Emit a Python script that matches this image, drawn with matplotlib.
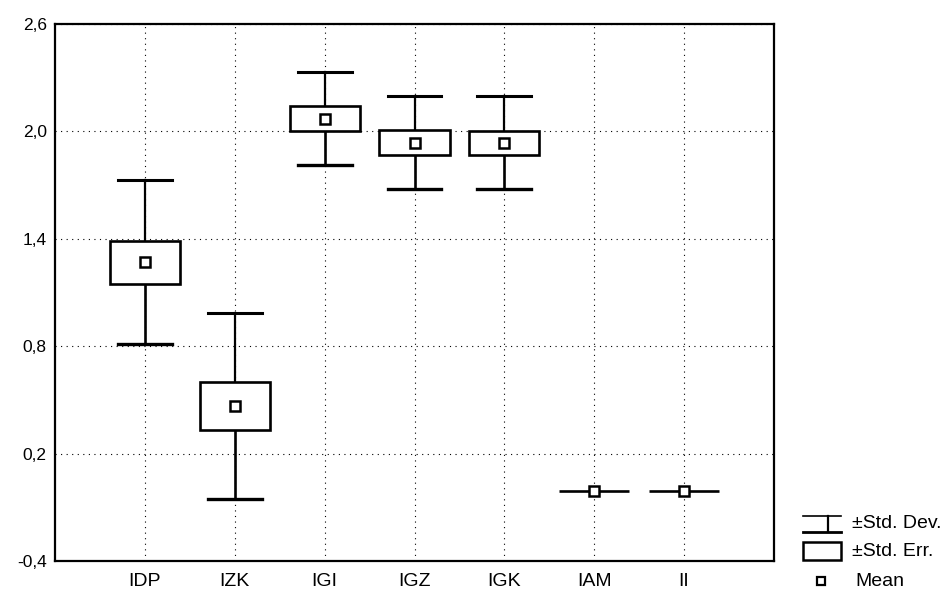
import matplotlib
matplotlib.use("Agg")
import matplotlib.pyplot as plt
import numpy as np
from matplotlib.lines import Line2D
from matplotlib.patches import Rectangle

plt.rcParams["font.family"] = ["Liberation Sans", "DejaVu Sans"]

# values (mean, ±SE box, ±SD whiskers)
categories = ["IDP", "IZK", "IGI", "IGZ", "IGK", "IAM", "II"]
means = [1.267, 0.465, 2.068, 1.936, 1.934, -0.01, -0.01]
std_err = [0.118, 0.133, 0.070, 0.068, 0.068, 0.0, 0.0]
std_dev = [0.458, 0.520, 0.260, 0.260, 0.260, 0.0, 0.0]
y_ticks = [-0.4, 0.2, 0.8, 1.4, 2.0, 2.6]

W, H = 952, 592
fig = plt.figure(figsize=(W / 100, H / 100), dpi=100)
ax = fig.add_axes([55 / W, 1 - 561 / H, (774 - 55) / W, (561 - 23.6) / H])

x = np.arange(1, len(categories) + 1)
box_half = 0.39
cap_half = 0.30

for xi, m, se, sd in zip(x, means, std_err, std_dev):
    # whiskers (±SD)
    ax.plot([xi, xi], [m + se, m + sd], color="black", lw=1.6, zorder=3)
    ax.plot([xi, xi], [m - sd, m - se], color="black", lw=1.9, zorder=3)
    if sd > 0:
        ax.plot([xi - cap_half, xi + cap_half], [m + sd] * 2, color="black", lw=2.2, zorder=3)
        ax.plot([xi - cap_half, xi + cap_half], [m - sd] * 2, color="black", lw=2.4, zorder=3)
    # box (±SE)
    ax.add_patch(Rectangle((xi - box_half, m - se), 2 * box_half, 2 * se,
                           facecolor="white", edgecolor="black", lw=1.9, zorder=4))
    # mean
    ax.plot([xi], [m], marker="s", markersize=6.5, markerfacecolor="white",
            markeredgecolor="black", markeredgewidth=1.8, zorder=5)

ax.set_xlim(0, 8)
ax.set_ylim(-0.4, 2.6)
ax.set_xticks(x)
ax.set_xticklabels(categories, fontsize=14)
ax.set_yticks(y_ticks)
ax.set_yticklabels([f"{t:.1f}".replace(".", ",") for t in y_ticks], fontsize=12.5)
ax.tick_params(axis="both", length=0)
ax.tick_params(axis="x", pad=9)
ax.tick_params(axis="y", pad=6)
ax.grid(True, color="black", lw=0.8, linestyle=(0, (1, 4)))
ax.set_axisbelow(True)
for s in ax.spines.values():
    s.set_linewidth(1.6)


def fx(px):
    return px / W


def fy(py):
    return 1 - py / H


# legend drawn by hand below the right side
lg = dict(transform=fig.transFigure, color="black")
fig.add_artist(Line2D([fx(803), fx(841)], [fy(516), fy(516)], lw=1.2, **lg))
fig.add_artist(Line2D([fx(803), fx(841)], [fy(532), fy(532)], lw=2.0, **lg))
fig.add_artist(Line2D([fx(828), fx(828)], [fy(516), fy(532)], lw=1.6, **lg))
fig.text(fx(852), fy(524), "±Std. Dev.", fontsize=14, va="center", ha="left")

fig.add_artist(Rectangle((fx(803), fy(560)), fx(841) - fx(803), fy(542) - fy(560),
                         transform=fig.transFigure, facecolor="white",
                         edgecolor="black", lw=1.8))
fig.text(fx(852), fy(552), "±Std. Err.", fontsize=14, va="center", ha="left")

fig.add_artist(Line2D([fx(821)], [fy(581)], marker="s", markersize=5.5,
                      markerfacecolor="white", markeredgecolor="black",
                      markeredgewidth=1.6, transform=fig.transFigure))
fig.text(fx(855), fy(581), "Mean", fontsize=14, va="center", ha="left")

fig.savefig("out.png", dpi=100)
